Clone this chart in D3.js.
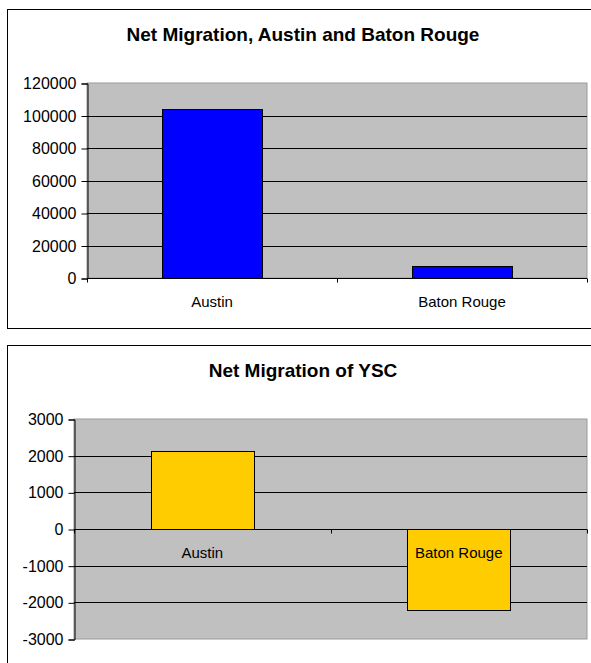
<!DOCTYPE html>
<html>
<head>
<meta charset="utf-8">
<script src="https://cdn.jsdelivr.net/npm/d3@7"></script>
<style>
  body { margin: 0; background: #fff; }
  svg { display: block; font-family: "Liberation Sans", Arial, sans-serif; }
</style>
</head>
<body>
<svg id="chart" width="591" height="663"></svg>
<script>
// data
var cities = ["Austin", "Baton Rouge"];
var netMigration = [104000, 7400];
var netMigrationTicks = [0, 20000, 40000, 60000, 80000, 100000, 120000];
var yscMigration = [2130, -2210];
var yscTicks = [-3000, -2000, -1000, 0, 1000, 2000, 3000];

var svg = d3.select("#chart");
svg.append("rect").attr("width", 591).attr("height", 663).attr("fill", "#fff");

function drawChart(opt){
    var g = svg.append("g");
    // chart frame
    g.append("rect").attr("x", opt.frame[0] + 0.5).attr("y", opt.frame[1] + 0.5)
        .attr("width", opt.frame[2]).attr("height", opt.frame[3])
        .attr("fill", "#fff").attr("stroke", "#000").attr("stroke-width", 1);

    g.append("text").attr("x", 303).attr("y", opt.titleY)
        .attr("text-anchor", "middle").attr("dominant-baseline", "central")
        .style("font-size", "19px").style("font-weight", "bold").text(opt.title);

    var x = d3.scaleBand().domain(cities).range([opt.left, opt.right]).paddingInner(0.6).paddingOuter(0.3);
    var y = d3.scaleLinear().domain(opt.domain).range([opt.bottom, opt.top]);

    // plot area
    g.append("rect").attr("x", opt.left).attr("y", opt.top)
        .attr("width", opt.right - opt.left).attr("height", opt.bottom - opt.top)
        .attr("fill", "#c0c0c0").attr("stroke", "#9a9a9a");

    // gridlines
    g.selectAll(".grid").data(opt.ticks.filter(function(t){ return t != opt.domain[0] && t != opt.domain[1] }))
        .enter().append("line")
        .attr("x1", opt.left).attr("x2", opt.right)
        .attr("y1", function(d){ return Math.round(y(d)) + 0.5 })
        .attr("y2", function(d){ return Math.round(y(d)) + 0.5 })
        .attr("stroke", "#000").attr("stroke-width", 1);

    // bars
    g.selectAll(".bar").data(cities).enter().append("rect")
        .attr("x", function(d){ return Math.round(x(d)) + 0.5 })
        .attr("width", Math.round(x.bandwidth()))
        .attr("y", function(d, i){ return Math.round(y(Math.max(0, opt.values[i]))) + 0.5 })
        .attr("height", function(d, i){ return Math.round(Math.abs(y(opt.values[i]) - y(0))) })
        .attr("fill", opt.color).attr("stroke", "#000").attr("stroke-width", 1);

    // value axis (hyphen minus like excel)
    var yAxis = g.append("g").attr("transform", "translate(" + (opt.left + 0.5) + ",0.5)")
        .call(d3.axisLeft(y).tickValues(opt.ticks).tickSize(6).tickPadding(5)
            .tickFormat(function(d){ return String(d) }));
    yAxis.attr("font-family", null).attr("font-size", null);
    yAxis.select(".domain").attr("stroke", "#000");
    yAxis.selectAll(".tick line").attr("stroke", "#000");
    yAxis.selectAll("text").style("font-size", "16px").attr("fill", "#000");

    // category axis on the zero line
    var zeroY = Math.round(y(0)) + 0.5;
    g.append("line").attr("x1", opt.left).attr("x2", opt.right).attr("y1", zeroY).attr("y2", zeroY)
        .attr("stroke", "#000");
    var bounds = [opt.left, (opt.left + opt.right) / 2, opt.right];
    g.selectAll(".ctick").data(bounds).enter().append("line")
        .attr("x1", function(d){ return Math.round(d) + 0.5 }).attr("x2", function(d){ return Math.round(d) + 0.5 })
        .attr("y1", zeroY).attr("y2", zeroY + 4).attr("stroke", "#000");

    g.selectAll(".clabel").data(cities).enter().append("text")
        .attr("x", function(d){ return x(d) + x.bandwidth() / 2 })
        .attr("y", zeroY + opt.labelGap)
        .attr("text-anchor", "middle").attr("dominant-baseline", "central")
        .style("font-size", "15px").text(function(d){ return d });
}

drawChart({
    frame: [7, 9, 600, 319],
    title: "Net Migration, Austin and Baton Rouge",
    titleY: 34,
    left: 87, right: 587, top: 83, bottom: 278,
    domain: [0, 120000], ticks: netMigrationTicks,
    values: netMigration, color: "#0000ff", labelGap: 23
});

drawChart({
    frame: [7, 345, 600, 340],
    title: "Net Migration of YSC",
    titleY: 370,
    left: 74, right: 587, top: 419, bottom: 639,
    domain: [-3000, 3000], ticks: yscTicks,
    values: yscMigration, color: "#ffcc00", labelGap: 23
});
</script>
</body>
</html>
